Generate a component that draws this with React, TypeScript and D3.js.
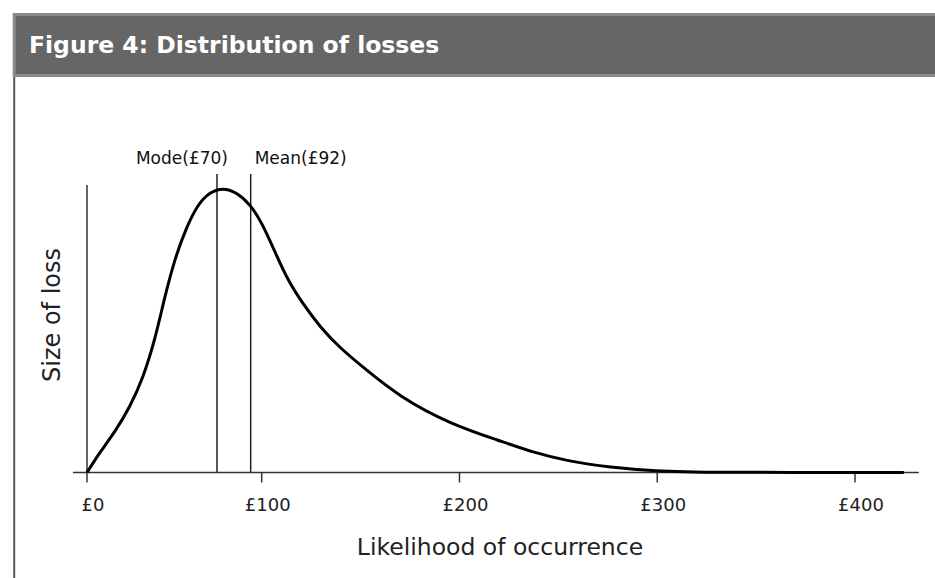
import React from "react";
import * as d3 from "d3";

const title = "Figure 4: Distribution of losses";
const xTickValues = [0, 100, 200, 300, 400];
const xTickLabels = ["£0", "£100", "£200", "£300", "£400"];
const xAxisTitle = "Likelihood of occurrence";
const yAxisTitle = "Size of loss";

// curve: loss amount (£) vs relative height (0..1)
const lossX = [0, 7.4, 16.0, 24.6, 32.1, 38.9, 44.6, 50.4, 56.7, 63.5, 70.4, 77.8, 85.3, 93.3, 100.2, 106.7, 113.3, 120.9, 129.5, 139.6, 152.3, 170.0, 195.2, 220.5, 237.2, 254.4, 276.1, 299.9, 321.6, 424.7];
const lossY = [0, 0.071, 0.141, 0.228, 0.329, 0.461, 0.614, 0.746, 0.85, 0.934, 0.976, 0.99, 0.976, 0.934, 0.868, 0.767, 0.667, 0.586, 0.506, 0.433, 0.36, 0.262, 0.169, 0.11, 0.07, 0.04, 0.018, 0.005, 0, 0];

const markerValues = [74.4, 93.7];
const markerLabels = ["Mode(£70)", "Mean(£92)"];

const W = 935;
const H = 578;
const FONT = "'DejaVu Sans', sans-serif";

export default function App() {
  const x = d3.scaleLinear().domain([0, 100, 400]).range([87, 261.7, 855]);
  const y = d3.scaleLinear().domain([0, 1]).range([472.5, 185]);
  const pts: [number, number][] = lossX.map((v, i) => [v, lossY[i]]);
  const line = d3
    .line<[number, number]>()
    .x((d) => x(d[0]))
    .y((d) => y(d[1]))
    .curve(d3.curveBasis);
  const axisY = y(0);
  const axisColor = "#333";

  return (
    <svg
      width={W}
      height={H}
      style={{ position: "absolute", left: 0, top: 0, background: "#fff" }}
      fontFamily={FONT}
    >
      {/* header */}
      <rect x={14.2} y={14.5} width={W} height={61} fill="#666" stroke="#8a8a8a" strokeWidth={3} />
      <text x={29} y={53} fill="#fff" fontSize={23.5} fontWeight="bold">
        {title}
      </text>
      {/* left border */}
      <line x1={14.2} x2={14.2} y1={77} y2={H} stroke="#555" strokeWidth={2} />

      {/* marker lines */}
      {markerValues.map((v, i) => (
        <line key={"m" + i} x1={x(v)} x2={x(v)} y1={174} y2={axisY} stroke="#222" strokeWidth={1.5} />
      ))}
      <text x={x(markerValues[0]) + 11} y={164} fontSize={17} textAnchor="end" fill="#111">
        {markerLabels[0]}
      </text>
      <text x={x(markerValues[1]) + 4} y={164} fontSize={17} textAnchor="start" fill="#111">
        {markerLabels[1]}
      </text>

      {/* axes */}
      <line x1={73} x2={918.7} y1={axisY} y2={axisY} stroke={axisColor} strokeWidth={1.5} />
      <line x1={x(0)} x2={x(0)} y1={y(1)} y2={axisY + 10} stroke={axisColor} strokeWidth={1.5} />
      {xTickValues.map((v, i) => (
        <g key={"t" + i}>
          {i > 0 && (
            <line x1={x(v)} x2={x(v)} y1={axisY} y2={axisY + 10} stroke={axisColor} strokeWidth={1.5} />
          )}
          <text x={x(v) + 6} y={510.5} fontSize={18} textAnchor="middle" fill="#222">
            {xTickLabels[i]}
          </text>
        </g>
      ))}

      {/* curve */}
      <path d={line(pts) || ""} fill="none" stroke="#000" strokeWidth={3} strokeLinejoin="round" />

      {/* axis titles */}
      <text x={500} y={555} fontSize={23.5} textAnchor="middle" fill="#222">
        {xAxisTitle}
      </text>
      <text
        transform={`translate(60,315) rotate(-90)`}
        fontSize={24}
        textAnchor="middle"
        fill="#222"
      >
        {yAxisTitle}
      </text>
    </svg>
  );
}
